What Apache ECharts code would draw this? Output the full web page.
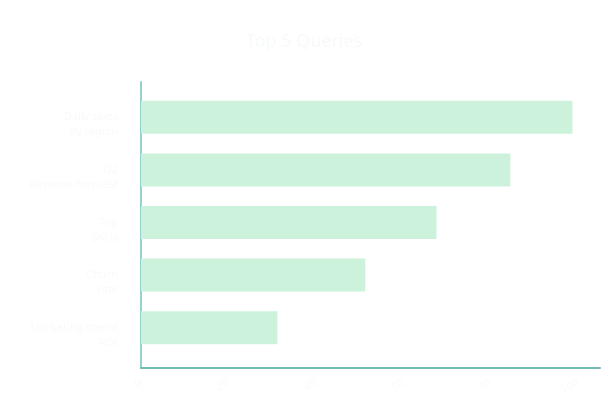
<!DOCTYPE html>
<html>
<head>
<meta charset="utf-8">
<script src="https://cdn.jsdelivr.net/npm/echarts@6/dist/echarts.min.js"></script>
<style>
html,body{margin:0;padding:0;background:#fff;}
#main{width:608px;height:419px;}
</style>
</head>
<body>
<div id="main"></div>
<script>
var titleText = 'Top 5 Queries';
var categories = ['Daily sales\nby region', 'Q2\nRevenue forecast', 'Top\nSKUs', 'Churn\nrate', 'Marketing spend\nROI'];
var values = [98.7, 84.5, 67.6, 51.3, 31.2];
var axisMax = 105;
var axisStep = 20;

var faint = '#f8fafa';
var mychart = echarts.init(document.getElementById('main'));
var option = {
    backgroundColor: '#ffffff',
    animation: false,
    title: {
        text: titleText,
        left: 'center',
        top: 28,
        textStyle: { color: faint, fontSize: 18, fontWeight: 'normal', fontFamily: 'Noto Sans' }
    },
    grid: [
        // frame grid: axis lines + value labels
        { left: 141, right: 8, top: 82, bottom: 51 },
        // bars grid
        { left: 141, right: 8, top: 91, bottom: 65 }
    ],
    xAxis: [
        {
            gridIndex: 0, type: 'value', min: 0, max: axisMax, interval: axisStep,
            axisLine: { show: true, lineStyle: { color: '#72bcb3', width: 2 } },
            axisTick: { show: false },
            splitLine: { show: false },
            axisLabel: { color: faint, fontSize: 11, rotate: 30, margin: 14, showMaxLabel: false, fontFamily: 'Noto Sans' }
        },
        {
            gridIndex: 1, type: 'value', min: 0, max: axisMax, interval: axisStep,
            show: false
        }
    ],
    yAxis: [
        {
            gridIndex: 0, type: 'value',
            axisLine: { show: true, lineStyle: { color: '#94d2cf', width: 2 } },
            axisTick: { show: false },
            splitLine: { show: false },
            axisLabel: { show: false }
        },
        {
            gridIndex: 1, type: 'category', inverse: true, data: categories,
            axisLine: { show: false },
            axisTick: { show: false },
            axisLabel: {
                color: faint, fontSize: 11, lineHeight: 15, margin: 23, interval: 0, fontFamily: 'Noto Sans',
                // blank first line pushes the two text lines down so line one sits on the bar centre
                formatter: function (v) { return ' \n' + v; }
            }
        }
    ],
    series: [
        {
            type: 'bar',
            xAxisIndex: 1,
            yAxisIndex: 1,
            data: values,
            barWidth: 33,
            itemStyle: { color: '#cdf2db' }
        }
    ]
};
mychart.setOption(option);
</script>
</body>
</html>
